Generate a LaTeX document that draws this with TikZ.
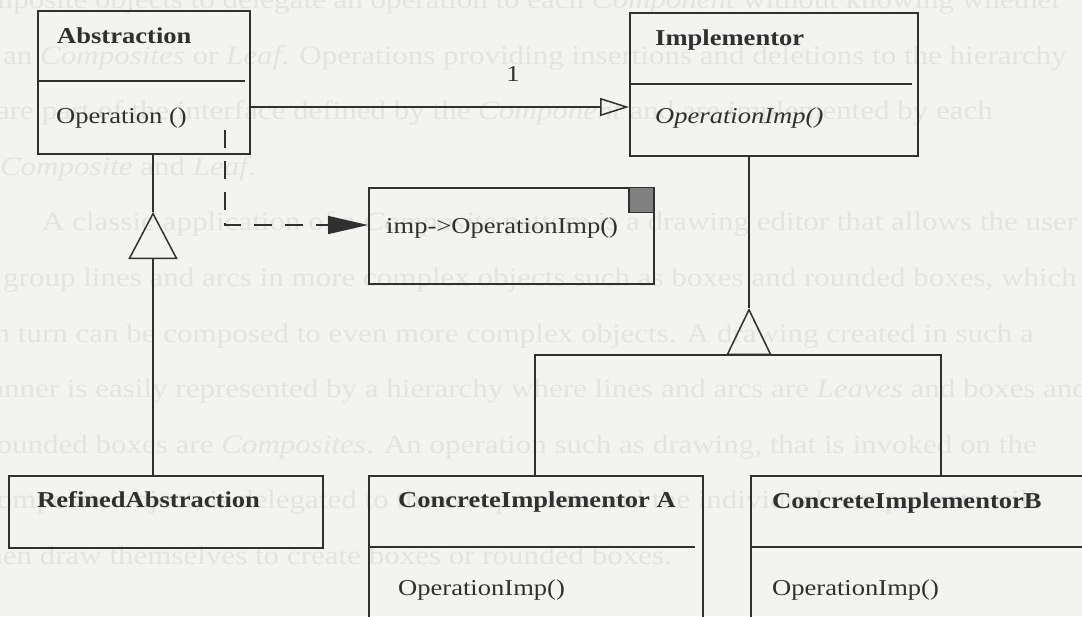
\documentclass[tikz,border=0pt]{standalone}
\usepackage{fontspec}
\setmainfont{Liberation Serif}[FakeStretch=1.17]
\usetikzlibrary{arrows.meta,calc}
\definecolor{paper}{RGB}{243,244,240}
\definecolor{ghost}{RGB}{227,228,224}
\definecolor{ink}{RGB}{48,48,48}
\definecolor{tabgray}{RGB}{128,128,128}
\begin{document}
\begin{tikzpicture}[x=1pt,y=-1pt,
  classbox/.style={draw=ink, line width=1.6pt, rectangle, anchor=north west, inner sep=0pt},
  conn/.style={draw=ink, line width=1.5pt},
  lbl/.style={text=ink, anchor=base west, inner sep=0pt, font=\fontsize{22.7}{26}\selectfont},
  title/.style={lbl, font=\fontsize{22.7}{26}\selectfont\bfseries},
  opname/.style={lbl, font=\fontsize{22.7}{26}\selectfont\itshape},
  bleed/.style={text=ghost, inner sep=0pt, font=\fontsize{26.5}{30}\selectfont}]

% page and frame
\clip (0,0) rectangle (1082,616);
\fill[paper] (0,0) rectangle (1082,616);

% text of the facing page showing through
\node[bleed, anchor=base east] (b1) at (1062,8) {Composite objects to delegate an operation to each \textit{Component} without knowing whether};
\node[bleed, anchor=base west] (b2) at (3,64) {an \textit{Composites} or \textit{Leaf}. Operations providing insertions and deletions to the hierarchy};
\node[bleed, anchor=base east] (b3) at (993,119) {are part of the interface defined by the \textit{Component} and are implemented by each};
\node[bleed, anchor=base east] (b4) at (256,175) {\textit{Composite} and \textit{Leaf}.};
\node[bleed, anchor=base west] (b5) at (42,230) {A classic application of a \textit{Composite} pattern is a drawing editor that allows the user};
\node[bleed, anchor=base west] (b6) at (3,286) {group lines and arcs in more complex objects such as boxes and rounded boxes, which};
\node[bleed, anchor=base east] (b7) at (1034,342) {in turn can be composed to even more complex objects. A drawing created in such a};
\node[bleed, anchor=base west] (b8) at (-34,397) {manner is easily represented by a hierarchy where lines and arcs are \textit{Leaves} and boxes and};
\node[bleed, anchor=base east] (b9) at (1037,453) {rounded boxes are \textit{Composites}. An operation such as drawing, that is invoked on the};
\node[bleed, anchor=base west] (b10) at (-24,508) {Composite object, is delegated to the components and the individual components will};
\node[bleed, anchor=base east] (b11) at (672,564) {then draw themselves to create boxes or rounded boxes.};

% class boxes
\node[classbox, minimum width=212pt, minimum height=143pt] (abs) at (37,10) {};
\node[classbox, minimum width=288pt, minimum height=143pt] (impl) at (629,12) {};
\node[classbox, minimum width=285pt, minimum height=96pt] (note) at (368,187) {};
\node[classbox, minimum width=314pt, minimum height=72pt] (refined) at (8,475) {};
\node[classbox, minimum width=334pt, minimum height=200pt] (cia) at (368,475) {};
\node[classbox, minimum width=400pt, minimum height=200pt] (cib) at (750,475) {};

% folded corner of the note
\node[draw=ink, fill=tabgray, line width=1.2pt, minimum size=25pt, inner sep=0pt,
      anchor=north east] (ear) at (note.north east) {};

% compartment dividers
\draw[conn] ($(abs.north west)+(0,71)$) -- ($(abs.north east)+(-6,71)$);
\draw[conn] ($(impl.north west)+(0,72)$) -- ($(impl.north east)+(-7,72)$);
\draw[conn] ($(cia.north west)+(0,72)$) -- ($(cia.north east)+(-9,72)$);
\draw[conn] ($(cib.north west)+(0,72)$) -- ($(cib.north east)+(0,72)$);

% labels
\node[title] (absname) at (57,43) {Abstraction};
\node[lbl] (absop) at (56,123) {Operation ()};
\node[title] (implname) at (655,45) {Implementor};
\node[opname] (implop) at (655,123) {OperationImp()};
\node[lbl] (notetext) at (386,233) {imp->OperationImp()};
\node[title] (refname) at (37,507) {RefinedAbstraction};
\node[title] (cianame) at (398,507) {ConcreteImplementor A};
\node[lbl] (ciaop) at (398,595) {OperationImp()};
\node[title] (cibname) at (772,508) {ConcreteImplementorB};
\node[lbl] (cibop) at (772,595) {OperationImp()};
\node[lbl, anchor=base] (mult) at (513,81) {1};

% connector bends and junctions
\coordinate (aS) at (249,107);
\coordinate (gA) at (153,212);
\coordinate (gI) at (749,308);
\coordinate (jI) at (749,355);
\coordinate (jL) at (535,355);
\coordinate (jR) at (941,355);
\coordinate (dS) at (225,130);
\coordinate (dK) at (225,225);

% bridge association
\draw[conn, -{Triangle[open,length=29pt,width=18pt]}] (aS) -- (aS -| impl.west);

% generalisation of Abstraction
\draw[conn] (abs.south -| gA) -- (gA);
\draw[conn, -{Triangle[open,length=47pt,width=49pt]}] (refined.north -| gA) -- (gA);

% generalisation of Implementor
\draw[conn] (impl.south -| gI) -- (gI);
\draw[conn, -{Triangle[open,length=47pt,width=45pt]}] (jI) -- (gI);
\draw[conn] (cia.north -| jL) -- (jL) -- (jR) -- (cib.north -| jR);

% implementation note
\draw[conn, dash pattern=on 18pt off 13pt, -{Triangle[length=40pt,width=18pt]}]
  (dS) -- (dK) -- (dK -| note.west);
\end{tikzpicture}
\end{document}
